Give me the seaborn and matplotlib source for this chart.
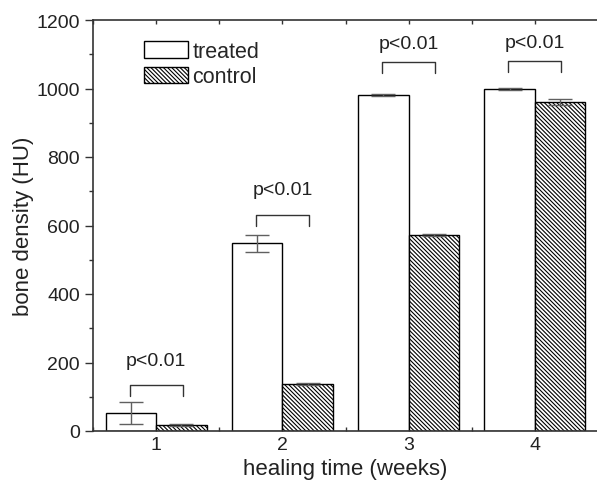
import matplotlib
matplotlib.use('Agg')
import matplotlib.pyplot as plt
import matplotlib.patches as mpatches
from matplotlib.ticker import MultipleLocator
import pandas as pd
import seaborn as sns

# Data
weeks = ['1', '2', '3', '4']
treated = [52, 548, 980, 998]
treated_err = [32, 25, 3, 3]
control = [17, 137, 572, 960]
control_err = [2, 2, 3, 8]
bracket_top = [134, 630, 1077, 1080]
bracket_leg = [102, 598, 1045, 1048]
label_y = [205, 705, 1132, 1134]

df = pd.DataFrame({
    'week': weeks * 2,
    'value': treated + control,
    'group': ['treated'] * 4 + ['control'] * 4,
})

sns.set_style('ticks')
plt.rcParams['font.family'] = ['Liberation Sans', 'DejaVu Sans']
plt.rcParams['hatch.linewidth'] = 0.8
HATCH = '\\' * 8

fig = plt.figure(figsize=(5.97, 4.89), dpi=100)
ax = fig.add_axes([93 / 597, 57 / 489, 505 / 597, 411 / 489])

sns.barplot(data=df, x='week', y='value', hue='group', order=weeks,
            hue_order=['treated', 'control'], palette=['white', 'white'],
            edgecolor='black', linewidth=1.0, width=0.8, errorbar=None,
            legend=False, ax=ax)

for bar in ax.containers[1]:
    bar.set_hatch(HATCH)

# Error bars on the bar centres
for cont, err in zip(ax.containers, [treated_err, control_err]):
    xs = [b.get_x() + b.get_width() / 2 for b in cont]
    ys = [b.get_height() for b in cont]
    ax.errorbar(xs, ys, yerr=err, fmt='none', ecolor='#606060',
                elinewidth=1.0, capsize=8.5, capthick=1.0, zorder=3)

# Significance brackets
for i in range(4):
    ax.plot([i - 0.21, i - 0.21, i + 0.21, i + 0.21],
            [bracket_leg[i], bracket_top[i], bracket_top[i], bracket_leg[i]],
            color='#333333', lw=1.0)
    ax.text(i, label_y[i], 'p<0.01', ha='center', va='center', fontsize=14,
            color='#222222')

ax.set_xlim(-0.5, 3.5)
ax.set_ylim(0, 1200)
ax.yaxis.set_major_locator(MultipleLocator(200))
ax.yaxis.set_minor_locator(MultipleLocator(100))
ax.xaxis.set_minor_locator(MultipleLocator(0.5))
ax.set_xticks(range(4))
ax.set_xticklabels(weeks)
ax.tick_params(axis='both', which='major', labelsize=14, length=6,
               width=1, direction='out', color='#333333', labelcolor='#222222')
ax.tick_params(axis='both', which='minor', length=3, width=1,
               direction='out', color='#333333')
ax.tick_params(axis='x', which='both', top=True, direction='in', length=3)

for side in ['left', 'bottom', 'top']:
    ax.spines[side].set_linewidth(1.2)
    ax.spines[side].set_color('#333333')
ax.spines['right'].set_visible(False)

ax.set_xlabel('healing time (weeks)', fontsize=16, color='#222222', labelpad=4)
ax.set_ylabel('bone density (HU)', fontsize=16, color='#222222', labelpad=2)

handles = [mpatches.Patch(facecolor='white', edgecolor='black', lw=1.0),
           mpatches.Patch(facecolor='white', edgecolor='black', lw=1.0,
                          hatch=HATCH)]
ax.legend(handles, ['treated', 'control'], loc='upper left',
          bbox_to_anchor=(0.084, 0.97), frameon=False, fontsize=15.5,
          handlelength=2.05, handleheight=0.8, handletextpad=0.2,
          labelspacing=0.2, borderaxespad=0)

fig.savefig('out.png', dpi=100)
